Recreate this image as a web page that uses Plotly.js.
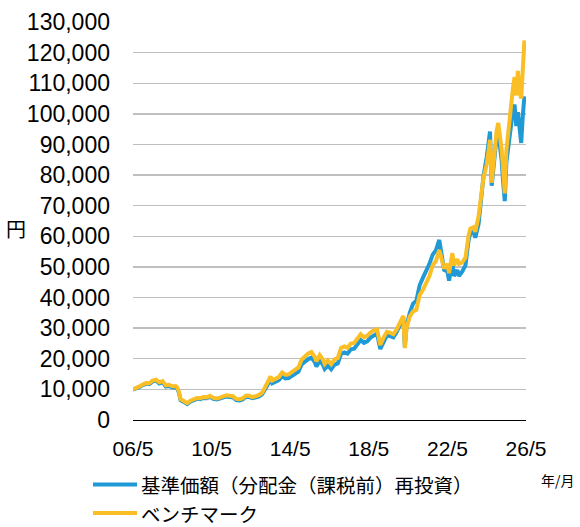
<!DOCTYPE html>
<html>
<head>
<meta charset="utf-8">
<script src="https://cdn.plot.ly/plotly-3.0.1.min.js"></script>
<style>html,body{margin:0;padding:0;background:#fff;}#chart{width:580px;height:527px;}</style>
</head>
<body>
<div id="chart"></div>
<script>
const dates = ["2006-05","2006-07","2006-09","2006-11","2007-01","2007-03","2007-05","2007-07","2007-09","2007-11",
"2008-01","2008-03","2008-05","2008-07","2008-08","2008-09","2008-10","2008-12","2009-02","2009-04",
"2009-06","2009-08","2009-10","2009-12","2010-02","2010-04","2010-06","2010-08","2010-10","2010-12",
"2011-02","2011-04","2011-06","2011-08","2011-10","2011-12","2012-02","2012-04","2012-06","2012-08",
"2012-10","2012-12","2013-02","2013-04","2013-05","2013-06","2013-08","2013-10","2013-12","2014-02",
"2014-04","2014-06","2014-08","2014-10","2014-12","2015-02","2015-04","2015-06","2015-08","2015-09",
"2015-11","2016-01","2016-02","2016-04","2016-06","2016-08","2016-10","2016-12","2017-02","2017-04",
"2017-06","2017-08","2017-10","2017-12","2018-02","2018-04","2018-06","2018-08","2018-10","2018-12",
"2019-02","2019-04","2019-06","2019-08","2019-10","2019-12","2020-02","2020-03","2020-04","2020-06",
"2020-08","2020-10","2020-12","2021-02","2021-04","2021-06","2021-08","2021-10","2021-12","2022-01",
"2022-03","2022-05","2022-06","2022-08","2022-09","2022-11","2022-12","2023-02","2023-04","2023-06",
"2023-07","2023-09","2023-10","2023-12","2024-02","2024-03","2024-05","2024-06","2024-07","2024-08",
"2024-09","2024-10","2024-11","2024-12","2025-01","2025-02","2025-03","2025-04","2025-05","2025-06",
"2025-07","2025-08","2025-09","2025-10","2025-11","2025-12","2026-01","2026-02","2026-03","2026-04"];

const fund = [9900,10200,10800,11400,11900,11700,12600,12900,11900,12300,
10900,11100,10600,10700,10200,8900,6500,5900,5200,6000,
6500,6900,6800,7200,7100,7600,6900,6700,7000,7300,
7700,7500,7400,6500,6400,6700,7600,7500,7100,7400,
7700,8500,10300,12400,13200,12000,12500,13000,14300,13600,
13700,14500,15200,15800,18200,19100,19900,20400,18900,17500,
19400,18000,16700,17800,16600,18100,18500,21600,22100,21700,
23100,23300,24900,26100,25200,25700,26900,27700,28200,23200,
25800,27600,27400,27000,28700,31400,33500,23800,30500,35000,
38000,39000,44000,46500,48500,51000,54000,55500,58800,55000,
49000,48500,45500,51500,47000,49000,47000,48500,50500,59000,
61000,61500,59500,64000,75000,79500,86000,91000,94200,76500,
83000,89000,92500,94000,89500,85000,78000,71500,84000,89000,
93000,97000,101300,103000,96000,100500,95000,90500,99000,105700];

const benchmark = [10000,10400,11000,11600,12100,12000,12900,13200,12300,12700,
11300,11500,11000,11100,10600,9300,6800,6200,5500,6300,
6800,7200,7100,7500,7400,7900,7200,7000,7300,7700,
8100,7900,7800,6900,6800,7100,8000,7900,7500,7800,
8200,9000,11000,13300,14200,12900,13500,14000,15500,14800,
14900,15800,16500,17200,19800,20800,21700,22200,20600,19200,
21200,19700,18300,19500,18200,19800,20200,23500,24000,23600,
25000,25200,26800,28000,27000,27500,28600,29300,29600,24500,
27000,28800,28500,28000,29600,32200,34000,23500,30000,33800,
35500,36000,40800,42500,44700,47000,50500,52000,55500,53000,
49500,51000,48000,54500,50500,52500,51000,51500,53000,60500,
62500,63000,61500,66500,75500,79000,83500,88000,91500,77500,
84000,91000,94500,97000,93000,88500,82000,74000,88000,94000,
98500,103000,108500,112000,106000,114000,107000,105000,116000,124000];

const tickVals = ["2006-05-01","2010-05-01","2014-05-01","2018-05-01","2022-05-01","2026-05-01"];
const tickText = ["06/5","10/5","14/5","18/5","22/5","26/5"];
const seriesNames = ["基準価額（分配金（課税前）再投資）","ベンチマーク"];
const seriesColors = ["#1f9ad6", "#fbbe24"];

const FONT = "Liberation Sans, Arial, Noto Sans CJK JP, sans-serif";
const JFONT = "Noto Sans CJK JP, Liberation Sans, sans-serif";

const traces = [
  {x: dates, y: fund, type: "scatter", mode: "lines", name: seriesNames[0],
   line: {color: seriesColors[0], width: 4}},
  {x: dates, y: benchmark, type: "scatter", mode: "lines", name: seriesNames[1],
   line: {color: seriesColors[1], width: 4}}
];

// legend drawn as shapes + annotations below the plot (paper coordinates)
const legY = [-0.1621, -0.2337];
const shapes = seriesNames.map((n, i) => ({
  type: "line", xref: "paper", yref: "paper", x0: -0.1018, x1: 0.0102, y0: legY[i], y1: legY[i],
  line: {color: seriesColors[i], width: 4}
}));
const legendText = seriesNames.map((n, i) => ({
  text: n, xref: "paper", yref: "paper", x: 0.0153, y: legY[i], xanchor: "left", yanchor: "middle",
  showarrow: false, font: {family: JFONT, size: 19.5, color: "#000"}
}));

const layout = {
  width: 580, height: 527,
  margin: {l: 133, r: 54, t: 22, b: 107},
  paper_bgcolor: "#fff", plot_bgcolor: "#fff",
  font: {family: FONT, color: "#000", size: 20},
  showlegend: false,
  xaxis: {type: "date", range: ["2006-05-01", "2026-05-01"],
          tickmode: "array", tickvals: tickVals, ticktext: tickText,
          showgrid: false, zeroline: false, showline: true, linecolor: "#000", linewidth: 1,
          ticks: "", tickfont: {size: 21, family: FONT}, ticklabelstandoff: 10},
  yaxis: {range: [0, 130000], dtick: 10000, tick0: 0, tickformat: ",d",
          showgrid: true, gridcolor: "#bfbfbf", gridwidth: 1.4, zeroline: false, showline: false,
          ticks: "", tickfont: {size: 23, family: FONT}, ticklabelstandoff: 22},
  shapes: shapes,
  annotations: legendText.concat([
    {text: "円", xref: "paper", yref: "paper", x: -0.297, y: 0.482, xanchor: "center", yanchor: "middle",
     showarrow: false, font: {family: JFONT, size: 20, color: "#000"}},
    {text: "年/月", xref: "paper", yref: "paper", x: 1.033, y: -0.151, xanchor: "left", yanchor: "middle",
     showarrow: false, font: {family: JFONT, size: 14, color: "#000"}}
  ])
};

Plotly.newPlot("chart", traces, layout, {displayModeBar: false, staticPlot: true});
</script>
</body>
</html>
